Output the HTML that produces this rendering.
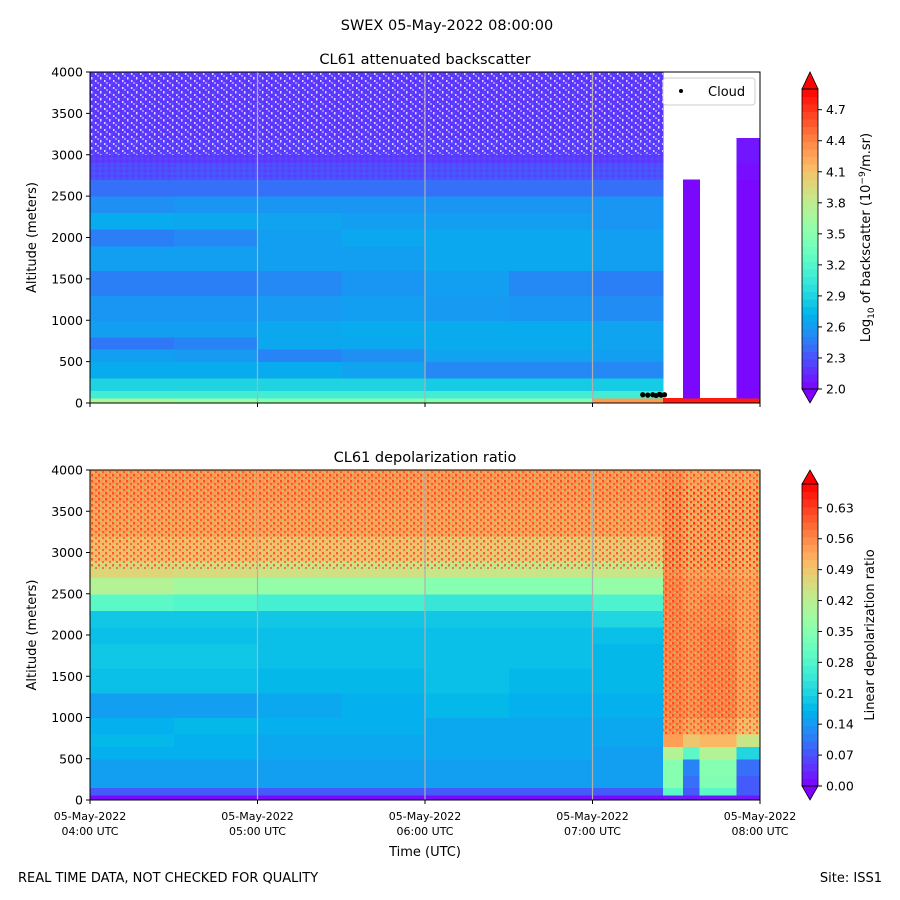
<!DOCTYPE html>
<html><head><meta charset="utf-8">
<style>
html,body{margin:0;padding:0;background:#fff;}
svg{display:block;font-family:"DejaVu Sans","Liberation Sans",sans-serif;}
</style></head>
<body>
<svg id="fig" width="900" height="900" viewBox="0 0 900 900" xmlns="http://www.w3.org/2000/svg">
<defs>
<pattern id="speckW" width="9" height="7" patternUnits="userSpaceOnUse">
<rect x="1" y="0" width="1.5" height="2.5" fill="#fff"/><rect x="5" y="3" width="1.5" height="2" fill="#fff"/><rect x="7.5" y="5" width="1" height="2" fill="#fff"/>
</pattern>
<pattern id="speckV" width="6" height="5" patternUnits="userSpaceOnUse">
<rect x="0" y="0" width="2" height="2" fill="#7f10ff" opacity="0.8"/><rect x="3" y="2.5" width="2" height="2" fill="#3a90ff" opacity="0.7"/>
</pattern>
<pattern id="speckR" width="7" height="6" patternUnits="userSpaceOnUse">
<rect x="0" y="0" width="2" height="2.5" fill="#ff1000"/><rect x="4" y="3" width="2" height="2" fill="#ff2a10"/><rect x="2" y="4" width="1.5" height="1.5" fill="#80ffa0"/><rect x="5.5" y="0.5" width="1.5" height="1.5" fill="#90f8a0"/>
</pattern>
</defs>
<text x="447" y="30" text-anchor="middle" font-size="14.5">SWEX 05-May-2022 08:00:00</text>
<g id="top"></g>
<g id="bot"></g>
<text x="18" y="882" font-size="13">REAL TIME DATA, NOT CHECKED FOR QUALITY</text>
<text x="882" y="882" font-size="13" text-anchor="end">Site: ISS1</text>
</svg>
<script>
// ---- data ----
const altEdges = [0,60,150,300,500,650,800,1000,1300,1600,1900,2100,2300,2500,2700,2900,3200,3600,4000];
const timeEdges = [0,0.5,1,1.5,2,2.5,3,3.42,3.54,3.64,3.86,4.0];
const backscatter = [
 [3.7,3.1,2.9,2.68,2.62,2.45,2.62,2.58,2.48,2.62,2.48,2.68,2.55,2.42,2.28,2.22,2.2,2.2],
 [3.6,3.1,2.9,2.68,2.6,2.5,2.62,2.58,2.48,2.62,2.52,2.66,2.58,2.42,2.3,2.22,2.2,2.2],
 [3.5,3.1,2.9,2.68,2.5,2.66,2.66,2.6,2.52,2.62,2.62,2.64,2.58,2.42,2.28,2.22,2.2,2.2],
 [3.5,3.1,2.9,2.64,2.55,2.66,2.68,2.62,2.58,2.62,2.66,2.62,2.58,2.42,2.28,2.22,2.2,2.2],
 [3.5,3.1,2.85,2.52,2.64,2.68,2.68,2.6,2.62,2.66,2.66,2.62,2.58,2.42,2.3,2.22,2.2,2.2],
 [3.5,3.1,2.85,2.52,2.64,2.68,2.68,2.58,2.52,2.66,2.66,2.62,2.58,2.42,2.3,2.22,2.2,2.2],
 [4.3,3.1,2.85,2.52,2.62,2.64,2.64,2.54,2.48,2.62,2.62,2.58,2.58,2.42,2.3,2.22,2.2,2.2],
 [4.8,null,null,null,null,null,null,null,null,null,null,null,null,null,null,null,null,null],
 [4.8,2.03,2.03,2.03,2.03,2.03,2.03,2.03,2.03,2.03,2.03,2.03,2.03,2.03,null,null,null,null],
 [4.8,null,null,null,null,null,null,null,null,null,null,null,null,null,null,null,null,null],
 [4.8,2.03,2.03,2.03,2.03,2.03,2.03,2.03,2.03,2.03,2.03,2.03,2.03,2.03,2.05,2.08,null,null]
];
const depol = [
 [0.01,0.08,0.15,0.15,0.17,0.18,0.17,0.15,0.19,0.2,0.19,0.2,0.3,0.42,0.48,0.52,0.55,0.56],
 [0.01,0.08,0.15,0.15,0.17,0.17,0.18,0.15,0.19,0.2,0.19,0.2,0.29,0.4,0.47,0.52,0.55,0.56],
 [0.01,0.08,0.15,0.15,0.16,0.16,0.17,0.16,0.18,0.19,0.19,0.2,0.27,0.38,0.46,0.51,0.55,0.56],
 [0.01,0.08,0.15,0.15,0.16,0.16,0.17,0.17,0.18,0.19,0.19,0.2,0.27,0.38,0.46,0.51,0.55,0.56],
 [0.01,0.08,0.15,0.15,0.16,0.16,0.16,0.18,0.19,0.19,0.19,0.2,0.25,0.36,0.45,0.5,0.55,0.56],
 [0.01,0.08,0.15,0.15,0.16,0.16,0.16,0.17,0.18,0.19,0.19,0.2,0.25,0.36,0.45,0.5,0.55,0.56],
 [0.01,0.08,0.15,0.15,0.15,0.16,0.16,0.17,0.18,0.18,0.19,0.22,0.28,0.38,0.45,0.5,0.55,0.56],
 [0.02,0.3,0.36,0.36,0.42,0.55,0.57,0.58,0.58,0.58,0.58,0.58,0.58,0.58,0.57,0.57,0.57,0.57],
 [0.02,0.08,0.1,0.12,0.3,0.5,0.55,0.57,0.57,0.57,0.57,0.57,0.56,0.56,0.55,0.55,0.55,0.55],
 [0.02,0.3,0.35,0.36,0.42,0.52,0.56,0.58,0.58,0.58,0.58,0.57,0.57,0.56,0.55,0.55,0.55,0.55],
 [0.02,0.08,0.08,0.1,0.22,0.45,0.52,0.55,0.55,0.55,0.55,0.55,0.55,0.55,0.54,0.54,0.55,0.55]
];
const cloudTimes = [3.3,3.33,3.36,3.38,3.4,3.41,3.43];
const cloudAlts = [100,95,100,90,105,95,100];
const yTicks = [0,500,1000,1500,2000,2500,3000,3500,4000];
const xTickHours = [0,1,2,3,4];
const xTickLabels = ["04:00 UTC","05:00 UTC","06:00 UTC","07:00 UTC","08:00 UTC"];
const bsTicks = [2.0,2.3,2.6,2.9,3.2,3.5,3.8,4.1,4.4,4.7];
const dpTicks = [0.00,0.07,0.14,0.21,0.28,0.35,0.42,0.49,0.56,0.63];

const NS="http://www.w3.org/2000/svg";
function mk(tag, attrs, parent){const e=document.createElementNS(NS,tag);for(const k in attrs)e.setAttribute(k,attrs[k]);parent.appendChild(e);return e;}
function rainbow(x){x=Math.max(0,Math.min(1,x));
 const r=Math.min(1,Math.abs(2*x-0.5)),g=Math.sin(Math.PI*x),b=Math.cos(Math.PI*x/2);
 return `rgb(${Math.round(r*255)},${Math.round(g*255)},${Math.round(b*255)})`;}

const X0=90,X1=760;
const xs=h=>X0+(X1-X0)*h/4;

function panel(gid, top, bottom, title, data, vmin, vmax, ticks, tickFmt, cbLabelHTML, cbLabelX, cbTop, cbBot, cbMax, isBs){
 const g=document.getElementById(gid);
 const ys=a=>bottom-(bottom-top)*a/4000;
 const cells=mk('g',{'shape-rendering':'crispEdges'},g);
 
 
 for(let i=0;i<timeEdges.length-1;i++){
  for(let j=0;j<altEdges.length-1;j++){
   const v=data[i][j]; if(v===null) continue;
   const r=mk('rect',{x:xs(timeEdges[i]),y:ys(altEdges[j+1]),width:xs(timeEdges[i+1])-xs(timeEdges[i])+0.5,height:ys(altEdges[j])-ys(altEdges[j+1])+0.5,fill:rainbow((v-vmin)/(vmax-vmin))},cells);
   
   
  }
 }
 if(isBs){
  mk('rect',{x:X0,y:ys(4000),width:xs(3.42)-X0,height:ys(2700)-ys(4000),fill:'url(#speckV)',opacity:0.35},g);
  mk('rect',{x:X0,y:ys(4000),width:xs(3.42)-X0,height:ys(3000)-ys(4000),fill:'url(#speckW)',opacity:0.8},g);
 } else {
  mk('rect',{x:X0,y:ys(4000),width:X1-X0,height:ys(2800)-ys(4000),fill:'url(#speckR)',opacity:0.55},g);
  mk('rect',{x:xs(3.42),y:ys(3800),width:X1-xs(3.42),height:ys(800)-ys(3800),fill:'url(#speckR)',opacity:0.5},g);
 }
 [1,2,3].forEach(h=>{const l=mk('line',{x1:xs(h),x2:xs(h),y1:top,y2:bottom,stroke:'#b0b0b0','stroke-width':1.2},g);
  });
 const fr=mk('rect',{x:X0,y:top,width:X1-X0,height:bottom-top,fill:'none',stroke:'#000','stroke-width':1},g);
 
 const t=mk('text',{x:(X0+X1)/2,y:top-8,'text-anchor':'middle','font-size':14.5},g);t.textContent=title;
 
 yTicks.forEach(v=>{const y=ys(v);mk('line',{x1:X0-4,x2:X0,y1:y,y2:y,stroke:'#000'},g);
  const tx=mk('text',{x:X0-7,y:y+4.5,'text-anchor':'end','font-size':12.5},g);tx.textContent=v;
  });
 const yl=mk('text',{x:0,y:0,'text-anchor':'middle','font-size':13,transform:`translate(36,${(top+bottom)/2}) rotate(-90)`},g);
 yl.textContent='Altitude (meters)';
 xTickHours.forEach((h,k)=>{mk('line',{x1:xs(h),x2:xs(h),y1:bottom,y2:bottom+4,stroke:'#000'},g);
  if(!isBs){const a=mk('text',{x:xs(h),y:bottom+20,'text-anchor':'middle','font-size':11},g);a.textContent='05-May-2022';
   
   const b=mk('text',{x:xs(h),y:bottom+35,'text-anchor':'middle','font-size':11},g);b.textContent=xTickLabels[k];
   }});
 if(isBs){
  cloudTimes.forEach((c,k)=>{const d=mk('circle',{cx:xs(c),cy:ys(cloudAlts[k]),r:2.6,fill:'#000'},g);
   });
  const lg=mk('g',{},g);
  mk('rect',{x:663,y:78,width:92,height:27,rx:3,fill:'#fff','fill-opacity':0.8,stroke:'#ccc'},lg);
  mk('circle',{cx:681,cy:91,r:2,fill:'#000'},lg);
  const lt=mk('text',{x:708,y:96,'font-size':13},lg);lt.textContent='Cloud';
 } else {
  const xl=mk('text',{x:(X0+X1)/2,y:bottom+56,'text-anchor':'middle','font-size':13},g);xl.textContent='Time (UTC)';
  
 }
 const cb=mk('g',{},g);
 const CX0=802,CX1=818,N=40;
 for(let k=0;k<N;k++){const y0=cbBot-(cbBot-cbTop)*(k+1)/N;
  mk('rect',{x:CX0,y:y0,width:CX1-CX0,height:(cbBot-cbTop)/N+0.6,fill:rainbow((k+0.5)/N),'shape-rendering':'crispEdges'},cb);}
 mk('polygon',{points:`${CX0},${cbTop} ${CX1},${cbTop} ${(CX0+CX1)/2},${top}`,fill:rainbow(1),stroke:'#000','stroke-width':0.8},cb);
 mk('polygon',{points:`${CX0},${cbBot} ${CX1},${cbBot} ${(CX0+CX1)/2},${bottom}`,fill:rainbow(0),stroke:'#000','stroke-width':0.8},cb);
 mk('rect',{x:CX0,y:cbTop,width:CX1-CX0,height:cbBot-cbTop,fill:'none',stroke:'#000','stroke-width':0.8},cb);
 ticks.forEach(v=>{const y=cbBot-(cbBot-cbTop)*(v-vmin)/(cbMax-vmin);
  mk('line',{x1:CX1,x2:CX1+4,y1:y,y2:y,stroke:'#000'},cb);
  const tx=mk('text',{x:CX1+8,y:y+4.5,'font-size':12.5},cb);tx.textContent=tickFmt(v);
  });
 const cl=mk('text',{x:0,y:0,'text-anchor':'middle','font-size':13,transform:`translate(${cbLabelX},${(top+bottom)/2}) rotate(-90)`},cb);
 cl.innerHTML=cbLabelHTML;
}
panel('top',72,403,'CL61 attenuated backscatter',backscatter,2.0,4.9,bsTicks,v=>v.toFixed(1),
 'Log<tspan font-size="9" dy="4">10</tspan><tspan dy="-4"> of backscatter (10</tspan><tspan font-size="9" dy="-5">−9</tspan><tspan dy="5">/m.sr)</tspan>',870,89,389,4.9,true);
panel('bot',470,800,'CL61 depolarization ratio',depol,0,0.7,dpTicks,v=>v.toFixed(2),'Linear depolarization ratio',874,484,786,0.684,false);
</script>
</body></html>
